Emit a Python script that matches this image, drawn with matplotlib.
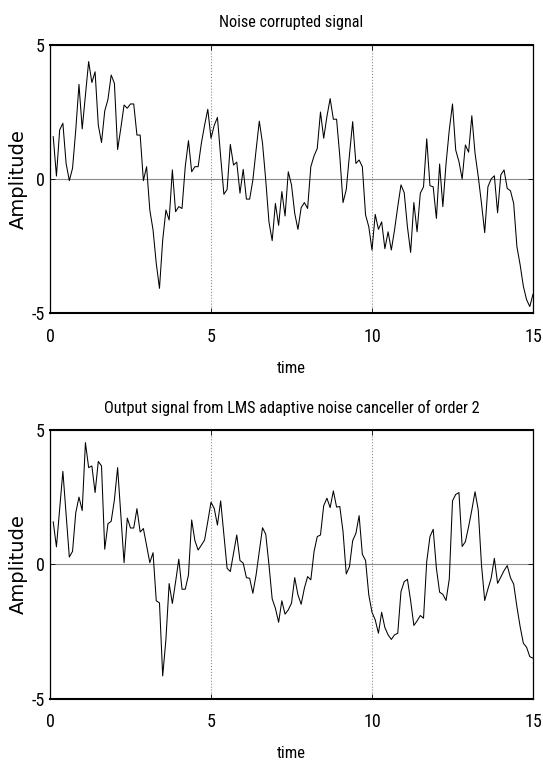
import numpy as np
import matplotlib
matplotlib.use("Agg")
import matplotlib.pyplot as plt
from matplotlib import font_manager

# sample times 0.1 .. 15.0 s
t = np.arange(1, 151) / 10

noisy = [
    1.58, 0.11, 1.83, 2.08, 0.58, -0.06, 0.40, 1.83, 3.53, 1.87,
    3.12, 4.38, 3.60, 4.00, 2.01, 1.36, 2.54, 2.97, 3.88, 3.57,
    1.10, 1.90, 2.76, 2.64, 2.80, 2.80, 1.64, 1.64, -0.06, 0.46,
    -1.16, -1.90, -3.15, -4.08, -2.28, -1.16, -1.53, 0.34, -1.22, -1.03,
    -1.10, 0.46, 1.43, 0.27, 0.46, 0.46, 1.33, 2.00, 2.60, 1.52,
    2.00, 2.30, 0.83, -0.57, -0.39, 1.29, 0.52, 0.63, -0.53, 0.36,
    -0.75, -0.75, -0.04, 1.08, 2.16, 1.33, -0.04, -1.60, -2.30, -0.91,
    -1.73, -0.47, -1.38, 0.27, -0.22, -1.28, -1.88, -1.07, -0.88, -1.10,
    0.46, 0.86, 1.14, 2.50, 1.52, 2.33, 3.00, 2.23, 2.23, 0.85,
    -0.88, -0.40, 0.90, 2.14, 0.58, 0.71, 0.46, -1.34, -1.78, -2.65,
    -1.32, -1.88, -1.60, -2.60, -1.97, -2.65, -1.90, -1.03, -0.22, -0.51,
    -1.78, -2.74, -0.88, -1.97, -0.53, -0.29, 1.50, -0.25, -0.29, -1.47,
    0.56, -1.03, 0.58, 1.83, 2.80, 1.08, 0.65, 0.00, 1.27, 1.00,
    2.36, 0.96, 0.09, -0.91, -2.00, -0.29, 0.00, 0.12, -1.26, 0.15,
    0.34, -0.35, -0.44, -0.91, -2.52, -3.20, -4.00, -4.50, -4.76, -4.30,
]

cleaned = [
    1.58, 0.65, 2.05, 3.46, 1.87, 0.27, 0.48, 1.92, 2.50, 2.00,
    4.53, 3.60, 3.66, 2.67, 3.83, 3.66, 0.56, 1.51, 1.60, 2.40,
    3.60, 1.82, 0.06, 1.72, 1.35, 1.35, 2.07, 1.20, 1.33, 0.70,
    0.06, 0.43, -1.36, -1.44, -4.16, -2.80, -0.72, -1.46, -0.66, 0.19,
    -0.93, -0.93, -0.40, 1.65, 0.88, 0.53, 0.71, 0.90, 1.59, 2.31,
    2.08, 1.46, 2.36, 1.09, -0.15, -0.27, 0.41, 1.09, 0.14, 0.04,
    -0.50, -0.52, -1.08, -0.40, 0.47, 1.36, 1.12, -0.02, -1.29, -1.64,
    -2.16, -1.36, -1.86, -1.70, -1.45, -0.50, -1.14, -1.49, -0.89, -0.46,
    -0.58, 0.47, 1.03, 1.09, 2.18, 2.46, 2.11, 2.73, 2.13, 2.15,
    1.22, -0.36, -0.09, 0.88, 1.15, 1.81, 0.37, 0.14, -1.14, -1.79,
    -2.07, -2.57, -1.79, -2.36, -2.63, -2.80, -2.63, -2.57, -1.02, -0.65,
    -0.56, -1.36, -2.28, -2.11, -1.91, -2.01, 0.10, 1.03, 1.30, -0.15,
    -1.04, -1.12, -1.35, -0.55, 2.36, 2.60, 2.67, 0.66, 0.84, 1.40,
    2.02, 2.70, 2.02, -0.02, -1.35, -0.92, -0.52, 0.22, -0.71, -0.48,
    -0.24, -0.05, -0.50, -0.74, -1.58, -2.32, -2.94, -3.09, -3.44, -3.50,
]

titles = ["Noise corrupted signal",
          "Output signal from LMS adaptive noise canceller of order 2"]
x_label = "time"
y_label = "Amplitude"
x_ticks = [0, 5, 10, 15]
y_ticks = [-5, 0, 5]


def narrow_font():
    wanted = ["Liberation Sans Narrow", "Arial Narrow", "Roboto Condensed",
              "DejaVu Sans", "Noto Sans", "Open Sans", "Roboto"]
    found = {}
    for f in font_manager.fontManager.ttflist:
        if f.style != "normal" or str(f.weight) not in ("400", "normal", "regular", "book"):
            continue
        cond = (f.stretch in ("condensed", "semi-condensed", "extra-condensed")
                or "Narrow" in f.name or "Condensed" in f.name)
        if cond and f.name in wanted:
            found.setdefault(f.name, f.fname)
    for name in wanted:
        if name in found:
            return found[name], 1.0
    return None, 0.82


fname, k = narrow_font()


def fp(size):
    if fname:
        p = font_manager.FontProperties(fname=fname)
    else:
        p = font_manager.FontProperties(family="Liberation Sans")
    p.set_size(size * k)
    return p


plt.rcParams["axes.titley"] = 1.0

fig = plt.figure(figsize=(5.43, 7.67), dpi=100)
W, H = 543, 767
boxes = [(50, 454, 483, 268), (50, 68.5, 483, 268.5)]

for box, y, title in zip(boxes, [noisy, cleaned], titles):
    ax = fig.add_axes([box[0] / W, box[1] / H, box[2] / W, box[3] / H])
    ax.plot(t, y, color="black", linewidth=0.75)
    ax.set_xlim(0, 15)
    ax.set_ylim(-5, 5)
    ax.set_xticks(x_ticks, [str(v) for v in x_ticks], fontproperties=fp(13))
    ax.set_yticks(y_ticks, [str(v) for v in y_ticks], fontproperties=fp(13))
    ax.tick_params(direction="in", length=3.5, width=0.6, top=True, right=True)
    ax.tick_params(axis="x", pad=10.5)
    ax.tick_params(axis="y", pad=3.6)
    ax.grid(True, axis="x", linestyle=":", color="#8c8c8c", linewidth=0.8)
    ax.grid(True, axis="y", linestyle="-", color="#8c8c8c", linewidth=0.8)
    for side in ["top", "bottom"]:
        ax.spines[side].set_linewidth(1.5)
    for side in ["left", "right"]:
        ax.spines[side].set_linewidth(0.9)
    ax.set_title(title, fontproperties=fp(11.7), pad=12.6)
    ax.set_xlabel(x_label, fontproperties=fp(12))
    ax.xaxis.set_label_coords(0.5, -48 / box[3])
    ax.set_ylabel(y_label, family="DejaVu Sans", fontsize=14)
    ax.yaxis.set_label_coords((28 - box[0]) / box[2], 0.5)

fig.savefig("out.png", dpi=100)
